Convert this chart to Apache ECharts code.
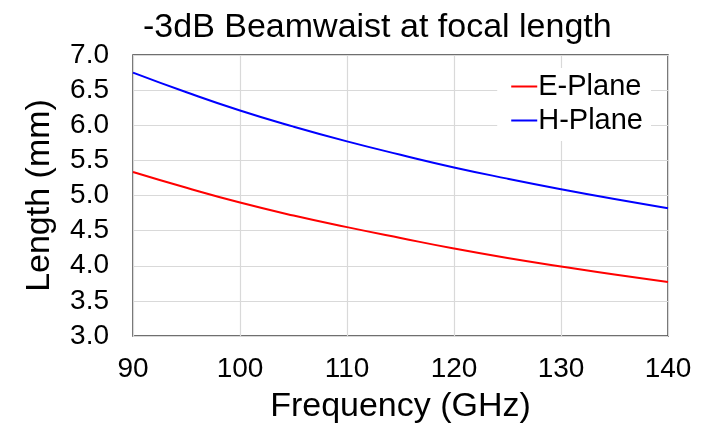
<!DOCTYPE html>
<html>
<head>
<meta charset="utf-8">
<script src="https://cdn.jsdelivr.net/npm/echarts@6/dist/echarts.min.js"></script>
<style>
html,body{margin:0;padding:0;background:#fff;}
#chart{width:707px;height:430px;}
</style>
</head>
<body>
<div id="chart"></div>
<script>
var frequency = [90, 95, 100, 105, 110, 115, 120, 125, 130, 135, 140];
var ePlane = [5.335, 5.11, 4.90, 4.715, 4.55, 4.395, 4.245, 4.11, 3.99, 3.875, 3.77];
var hPlane = [6.75, 6.47, 6.21, 5.98, 5.77, 5.58, 5.40, 5.24, 5.09, 4.95, 4.82];
var titleText = '-3dB Beamwaist at focal length';
var xName = 'Frequency (GHz)';
var yName = 'Length (mm)';

function pairs(xs, ys) { return xs.map(function (x, i) { return [x, ys[i]]; }); }

var font = 'Liberation Sans, Arial, sans-serif';
var chart = echarts.init(document.getElementById('chart'), null, {renderer: 'canvas'});
chart.setOption({
  backgroundColor: '#fff',
  animation: false,
  title: {
    text: titleText,
    left: 138,
    top: 6,
    textStyle: {fontFamily: font, fontSize: 34, fontWeight: 'normal', color: '#000'}
  },
  legend: {
    orient: 'vertical',
    right: 56,
    top: 68,
    backgroundColor: '#fff',
    padding: [4, 8, 6, 14],
    itemGap: 5,
    itemWidth: 26,
    itemHeight: 2,
    icon: 'rect',
    textStyle: {fontFamily: font, fontSize: 29, color: '#000', padding: [0, 0, 0, -4]},
    data: ['E-Plane', 'H-Plane']
  },
  grid: {
    left: 133, right: 39, top: 55, bottom: 94,
    show: true, borderColor: '#404040', borderWidth: 1.5, backgroundColor: 'transparent'
  },
  xAxis: {
    type: 'value', min: 90, max: 140, interval: 10,
    name: xName, nameLocation: 'middle', nameGap: 54,
    nameTextStyle: {fontFamily: font, fontSize: 34, color: '#000'},
    axisLine: {show: false},
    axisTick: {show: false},
    axisLabel: {fontFamily: font, fontSize: 28, color: '#000', margin: 19},
    splitLine: {show: true, lineStyle: {color: '#d9d9d9', width: 1.2}}
  },
  yAxis: {
    type: 'value', min: 3.0, max: 7.0, interval: 0.5,
    name: yName, nameLocation: 'middle', nameGap: 76,
    nameTextStyle: {fontFamily: font, fontSize: 34, color: '#000'},
    axisLine: {show: false},
    axisTick: {show: false},
    axisLabel: {fontFamily: font, fontSize: 28, color: '#000', margin: 24,
      formatter: function (v) { return v.toFixed(1); }},
    splitLine: {show: true, lineStyle: {color: '#d9d9d9', width: 1.2}}
  },
  series: [
    {name: 'E-Plane', type: 'line', smooth: true, showSymbol: false,
     lineStyle: {color: '#ff0000', width: 2}, itemStyle: {color: '#ff0000'},
     data: pairs(frequency, ePlane)},
    {name: 'H-Plane', type: 'line', smooth: true, showSymbol: false,
     lineStyle: {color: '#0000ff', width: 2}, itemStyle: {color: '#0000ff'},
     data: pairs(frequency, hPlane)}
  ]
});
</script>
</body>
</html>
